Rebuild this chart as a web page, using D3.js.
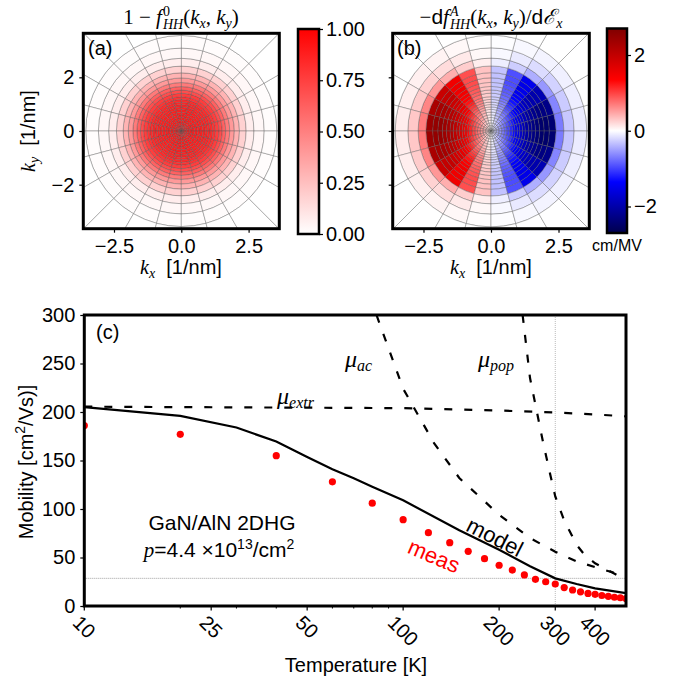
<!DOCTYPE html>
<html>
<head>
<meta charset="utf-8">
<style>
  body { margin: 0; background: #fff; }
  text { white-space: pre; }
</style>
</head>
<body>
<svg width="674" height="683"></svg>
<script src="https://d3js.org/d3.v7.min.js"></script>
<script>
// ---- data: k-space maps (a), (b) ----
var ringR = [0.1, 0.2, 0.3, 0.4, 0.5, 0.6, 0.7, 0.8, 0.89, 0.98, 1.07, 1.17, 1.27,
             1.40, 1.52, 1.65, 1.80, 1.97, 2.16, 2.41, 2.70, 3.08, 3.55, 5.3];
// 1 - f0 per ring band
var occProfile = [0.9, 0.9, 0.9, 0.9, 0.89, 0.89, 0.88, 0.88, 0.87, 0.86, 0.85, 0.83, 0.8,
                  0.76, 0.7, 0.62, 0.52, 0.4, 0.3, 0.18, 0.07, 0.03, 0.01, 0];
// -df/dE amplitude per ring band (cm/MV)
var derivProfile = [0.1, 0.25, 0.4, 0.55, 0.7, 0.85, 1.0, 1.15, 1.3, 1.45, 1.6, 1.75, 1.9,
                    2.05, 2.2, 2.3, 2.4, 2.5, 2.5, 2.45, 0.7, 0.3, 0.1, 0];
// angular weight of each 15 degree sector (counter-clockwise from +kx)
var sectorWeight = [-0.99, -0.92, -0.79, -0.61, -0.38, -0.13, 0.13, 0.38, 0.61, 0.79, 0.92, 0.99,
                    0.99, 0.92, 0.79, 0.61, 0.38, 0.13, -0.13, -0.38, -0.61, -0.79, -0.92, -0.99];
var kxTicks = [-2.5, 0, 2.5];
var kyTicks = [-2, 0, 2];
var cbTicksA = [0, 0.25, 0.5, 0.75, 1];
var cbTicksB = [-2, 0, 2];

// ---- data: mobility vs temperature (c) ----
var measT  = [10, 20, 40, 60, 80, 100, 120, 140, 160, 180, 200, 220, 240, 260, 280, 300,
              320, 340, 360, 380, 400, 420, 440, 460, 480, 500];
var measMu = [186, 177, 155, 128, 106, 89, 75.6, 65.3, 56.4, 48.8, 42, 37, 32, 27.5, 25, 22.7,
              19, 16.5, 14.6, 13, 12, 10.8, 10, 9, 8.5, 7.7];
var modelT  = [10, 20, 30, 40, 50, 60, 70, 80, 100, 150, 200, 250, 300, 350, 400, 500];
var modelMu = [205, 196, 184, 169.5, 153.6, 141, 131.6, 123, 109, 78, 58, 41, 28.5, 22.7, 18.2, 13.2];
var extrT  = [10, 100, 200, 300, 400, 500];
var extrMu = [205.5, 204, 201.5, 199.5, 197.5, 195.5];
var acT  = [82.5, 100, 125, 150, 200, 250, 300, 350, 400, 450, 500];
var acMu = [300, 224, 168, 132, 94, 70, 56, 46, 40, 35, 31];
var popT  = [237, 250, 262, 275, 290, 300, 320, 333, 350, 370, 400, 450, 500];
var popMu = [300, 235, 202, 168, 134, 113, 88, 77, 63, 53, 44, 35, 27];
var refT = 300, refMu = 28.5;
var tempTicks = [10, 25, 50, 100, 200, 300, 400];
var tempMinor = [20, 30, 40, 60, 70, 80, 90];
var muTicks = [0, 50, 100, 150, 200, 250, 300];

var SANS = "'Liberation Sans', Arial, sans-serif";
var SERIF = "'Liberation Serif', 'DejaVu Serif', serif";
var FS = 20;

var svg = d3.select("svg");
svg.append("rect").attr("width", 674).attr("height", 683).attr("fill", "#fff");

// text made of pieces (italic math, sub/superscripts)
function rich(parent, parts, size, x, y, anchor, rot, fill) {
  var g = parent.append("g");
  var cx = 0, start = 0;
  parts.forEach(function(p) {
    var t = g.append("text")
      .attr("y", p.dy || 0)
      .style("font-family", p.f || SERIF)
      .style("font-style", p.it ? "italic" : "normal")
      .style("font-size", (p.s || size) + "px")
      .attr("fill", fill || "#000")
      .text(p.t);
    var w = t.node().getComputedTextLength();
    if (p.back) { t.attr("x", start); cx = Math.max(cx, start + w); }
    else { start = cx; t.attr("x", cx); cx += w + (p.gap || 0); }
  });
  var dx = anchor === "middle" ? -cx / 2 : anchor === "end" ? -cx : 0;
  g.attr("transform", "translate(" + x + "," + y + ")" + (rot ? " rotate(" + rot + ")" : "") +
    " translate(" + dx + ",0)");
  return g;
}

function styleAxis(sel, noText) {
  sel.select(".domain").remove();
  sel.selectAll(".tick line").attr("stroke", "#000").attr("stroke-width", 1.2);
  sel.selectAll(".tick text").style("font-family", SANS).style("font-size", FS + "px").attr("fill", "#000");
  if (noText) sel.selectAll(".tick text").remove();
}

// ---- panels (a) and (b) ----
function kPanel(p, id, bandValue, color, showY) {
  var x = d3.scaleLinear().domain([-3.64, 3.64]).range([p.x0, p.x1]);
  var y = d3.scaleLinear().domain([-3.64, 3.64]).range([p.y1, p.y0]);
  svg.append("clipPath").attr("id", id).append("rect")
    .attr("x", p.x0).attr("y", p.y0).attr("width", p.x1 - p.x0).attr("height", p.y1 - p.y0);
  var g = svg.append("g").attr("clip-path", "url(#" + id + ")")
    .append("g").attr("transform", "translate(" + x(0) + "," + y(0) + ")");
  var arc = d3.arc();
  var step = 2 * Math.PI / sectorWeight.length;
  var unit = x(1) - x(0);
  ringR.forEach(function(r1, i) {
    var r0 = i ? ringR[i - 1] : 0;
    sectorWeight.forEach(function(w, j) {
      g.append("path")
        .attr("d", arc({innerRadius: r0 * unit, outerRadius: r1 * unit,
                        startAngle: Math.PI / 2 - (j + 1) * step, endAngle: Math.PI / 2 - j * step}))
        .attr("fill", color(bandValue(i, j)))
        .attr("stroke", "#555")
        .attr("stroke-opacity", 0.42)
        .attr("stroke-width", 0.9);
    });
  });
  svg.append("g").attr("transform", "translate(0," + p.y1 + ")")
    .call(d3.axisBottom(x).tickValues(kxTicks).tickFormat(d3.format(".1f")).tickSize(4).tickPadding(6))
    .call(styleAxis);
  svg.append("g").attr("transform", "translate(" + p.x0 + ",0)")
    .call(d3.axisLeft(y).tickValues(kyTicks).tickFormat(d3.format("d")).tickSize(4).tickPadding(5))
    .call(styleAxis, !showY);
  svg.append("rect").attr("x", p.x0).attr("y", p.y0).attr("width", p.x1 - p.x0).attr("height", p.y1 - p.y0)
    .attr("fill", "none").attr("stroke", "#000").attr("stroke-width", 3);
}

function colorbar(id, x0, x1, y0, y1, domain, colors, ticks, fmt) {
  var grad = svg.append("defs").append("linearGradient").attr("id", id)
    .attr("x1", 0).attr("y1", 1).attr("x2", 0).attr("y2", 0);
  var n = colors.length;
  colors.forEach(function(c, i) {
    grad.append("stop").attr("offset", i / (n - 1)).attr("stop-color", c);
  });
  svg.append("rect").attr("x", x0).attr("y", y0).attr("width", x1 - x0).attr("height", y1 - y0)
    .attr("fill", "url(#" + id + ")").attr("stroke", "#000").attr("stroke-width", 2.5);
  var s = d3.scaleLinear().domain(domain).range([y1, y0]);
  svg.append("g").attr("transform", "translate(" + x1 + ",0)")
    .call(d3.axisRight(s).tickValues(ticks).tickFormat(fmt).tickSize(4).tickPadding(3))
    .call(styleAxis);
}

var pa = {x0: 83.3, x1: 279.3, y0: 33.3, y1: 228.7};
var pb = {x0: 392.7, x1: 589.3, y0: 33.3, y1: 228.7};

var redMap = d3.scaleLinear().domain([0, 1]).range(["#ffffff", "#ff0000"]).clamp(true);
var seismic = d3.scaleLinear().domain([-2.7, -1.35, 0, 1.35, 2.7])
  .range(["#00004d", "#0000ff", "#ffffff", "#ff0000", "#800000"]).clamp(true);

kPanel(pa, "clipA", function(i) { return occProfile[i]; }, redMap, true);
kPanel(pb, "clipB", function(i, j) { return derivProfile[i] * sectorWeight[j]; }, seismic, false);

colorbar("gradA", 298, 319, 29, 234, [0, 1], ["#ffffff", "#ff0000"], cbTicksA, d3.format(".2f"));
colorbar("gradB", 607, 627, 28.5, 233, [-2.7, 2.7], ["#00004d", "#0000ff", "#ffffff", "#ff0000", "#800000"],
  cbTicksB, d3.format("d"));

svg.append("text").attr("x", 617).attr("y", 251).attr("text-anchor", "middle")
  .style("font-family", SANS).style("font-size", "16px").text("cm/MV");

// titles
var SUB = 14;
rich(svg, [{t: "1 − "}, {t: "f", it: 1, gap: 1}, {t: "0", s: SUB, dy: -8}, {t: "HH", it: 1, s: SUB, dy: 5, back: 1},
  {t: "("}, {t: "k", it: 1}, {t: "x", it: 1, s: SUB, dy: 4}, {t: ", "}, {t: "k", it: 1},
  {t: "y", it: 1, s: SUB, dy: 4}, {t: ")"}], 21, 181, 24, "middle");
rich(svg, [{t: "−"}, {t: "d", f: SANS}, {t: "f", it: 1, gap: 1}, {t: "A", it: 1, s: SUB, dy: -8},
  {t: "HH", it: 1, s: SUB, dy: 5, back: 1}, {t: "("}, {t: "k", it: 1}, {t: "x", it: 1, s: SUB, dy: 4},
  {t: ", "}, {t: "k", it: 1}, {t: "y", it: 1, s: SUB, dy: 4}, {t: ")/"}, {t: "d", f: SANS},
  {t: "ℰ", it: 1}, {t: "x", it: 1, s: SUB, dy: 4}], 21, 491, 24, "middle");

// axis labels
[181, 491].forEach(function(cx) {
  rich(svg, [{t: "k", it: 1}, {t: "x", it: 1, s: SUB, dy: 4}, {t: "  [1/nm]", f: SANS}], FS, cx, 274, "middle");
});
rich(svg, [{t: "k", it: 1}, {t: "y", it: 1, s: SUB, dy: 4}, {t: "  [1/nm]", f: SANS}], FS, 35, 131, "middle", -90);

svg.append("text").attr("x", 88).attr("y", 55).style("font-family", SANS).style("font-size", FS + "px").text("(a)");
svg.append("text").attr("x", 397).attr("y", 55).style("font-family", SANS).style("font-size", FS + "px").text("(b)");

// ---- panel (c) ----
var pc = {x0: 84.3, x1: 626, y0: 315, y1: 606};
var xT = d3.scaleLog().domain([10, 500]).range([pc.x0, pc.x1]);
var yM = d3.scaleLinear().domain([0, 300]).range([pc.y1, pc.y0]);

svg.append("clipPath").attr("id", "clipC").append("rect")
  .attr("x", pc.x0).attr("y", pc.y0).attr("width", pc.x1 - pc.x0).attr("height", pc.y1 - pc.y0);
var gc = svg.append("g").attr("clip-path", "url(#clipC)");

gc.append("line").attr("x1", xT(refT)).attr("x2", xT(refT)).attr("y1", pc.y0).attr("y2", pc.y1)
  .attr("stroke", "#aaa").attr("stroke-width", 0.8).attr("stroke-dasharray", "1,1");
gc.append("line").attr("x1", pc.x0).attr("x2", pc.x1).attr("y1", yM(refMu)).attr("y2", yM(refMu))
  .attr("stroke", "#888").attr("stroke-width", 0.8).attr("stroke-dasharray", "1,1");

var line = d3.line().x(function(d) { return xT(d[0]); }).y(function(d) { return yM(d[1]); });
function series(T, M) { return T.map(function(t, i) { return [t, M[i]]; }); }

[[extrT, extrMu], [acT, acMu], [popT, popMu]].forEach(function(s) {
  gc.append("path").datum(series(s[0], s[1])).attr("d", line)
    .attr("fill", "none").attr("stroke", "#000").attr("stroke-width", 2.2).attr("stroke-dasharray", "8,12");
});
gc.append("path").datum(series(modelT, modelMu)).attr("d", line)
  .attr("fill", "none").attr("stroke", "#000").attr("stroke-width", 2.2);

gc.selectAll("circle.meas").data(series(measT, measMu)).enter().append("circle")
  .attr("class", "meas")
  .attr("cx", function(d) { return xT(d[0]); })
  .attr("cy", function(d) { return yM(d[1]); })
  .attr("r", 3.6).attr("fill", "#ff0000");

// axes of (c)
svg.append("g").attr("transform", "translate(" + pc.x0 + ",0)")
  .call(d3.axisLeft(yM).tickValues(muTicks).tickFormat(d3.format("d")).tickSize(4).tickPadding(5))
  .call(styleAxis);
var xAx = svg.append("g").attr("transform", "translate(0," + pc.y1 + ")");
xAx.selectAll("line.major").data(tempTicks).enter().append("line")
  .attr("x1", xT).attr("x2", xT).attr("y1", 0).attr("y2", 4.5).attr("stroke", "#000").attr("stroke-width", 1.2);
xAx.selectAll("line.minor").data(tempMinor).enter().append("line")
  .attr("x1", xT).attr("x2", xT).attr("y1", 0).attr("y2", 2.5).attr("stroke", "#000").attr("stroke-width", 1);
xAx.selectAll("text").data(tempTicks).enter().append("text")
  .style("font-family", SANS).style("font-size", FS + "px")
  .attr("text-anchor", "middle").attr("dy", "0.35em")
  .attr("transform", function(d) {
    var w = String(d).length * 0.556 * FS;
    var cy = 8 + (w + 14) * 0.707 / 2;
    return "translate(" + xT(d) + "," + cy + ") rotate(45)";
  })
  .text(function(d) { return d; });

svg.append("rect").attr("x", pc.x0).attr("y", pc.y0).attr("width", pc.x1 - pc.x0).attr("height", pc.y1 - pc.y0)
  .attr("fill", "none").attr("stroke", "#000").attr("stroke-width", 3);

svg.append("text").attr("x", 96).attr("y", 339).style("font-family", SANS).style("font-size", FS + "px").text("(c)");
svg.append("text").attr("x", 356).attr("y", 672).attr("text-anchor", "middle")
  .style("font-family", SANS).style("font-size", FS + "px").text("Temperature [K]");
rich(svg, [{t: "Mobility [cm", f: SANS}, {t: "2", f: SANS, s: SUB, dy: -8}, {t: "/Vs)]", f: SANS}],
  FS, 33, 462, "middle", -90);

rich(svg, [{t: "μ", it: 1}, {t: "ac", it: 1, s: 16, dy: 4}], 24, 345, 367);
rich(svg, [{t: "μ", it: 1}, {t: "pop", it: 1, s: 16, dy: 4}], 24, 478, 367);
rich(svg, [{t: "μ", it: 1}, {t: "extr", it: 1, s: 16, dy: 4}], 24, 277, 404);

svg.append("text").attr("x", 222).attr("y", 530).attr("text-anchor", "middle")
  .style("font-family", SANS).style("font-size", "21px").text("GaN/AlN 2DHG");
rich(svg, [{t: "p", it: 1}, {t: "=4.4 ×10", f: SANS}, {t: "13", f: SANS, s: SUB, dy: -8},
  {t: "/cm", f: SANS}, {t: "2", f: SANS, s: SUB, dy: -8}], 21, 219, 557, "middle");

svg.append("text").attr("text-anchor", "middle").attr("dy", "0.35em")
  .attr("transform", "translate(495,537) rotate(27)")
  .style("font-family", SANS).style("font-size", "22px").text("model");
svg.append("text").attr("text-anchor", "middle").attr("dy", "0.35em").attr("fill", "#ff0000")
  .attr("transform", "translate(434,556) rotate(23)")
  .style("font-family", SANS).style("font-size", "22px").text("meas");
</script>
</body>
</html>
